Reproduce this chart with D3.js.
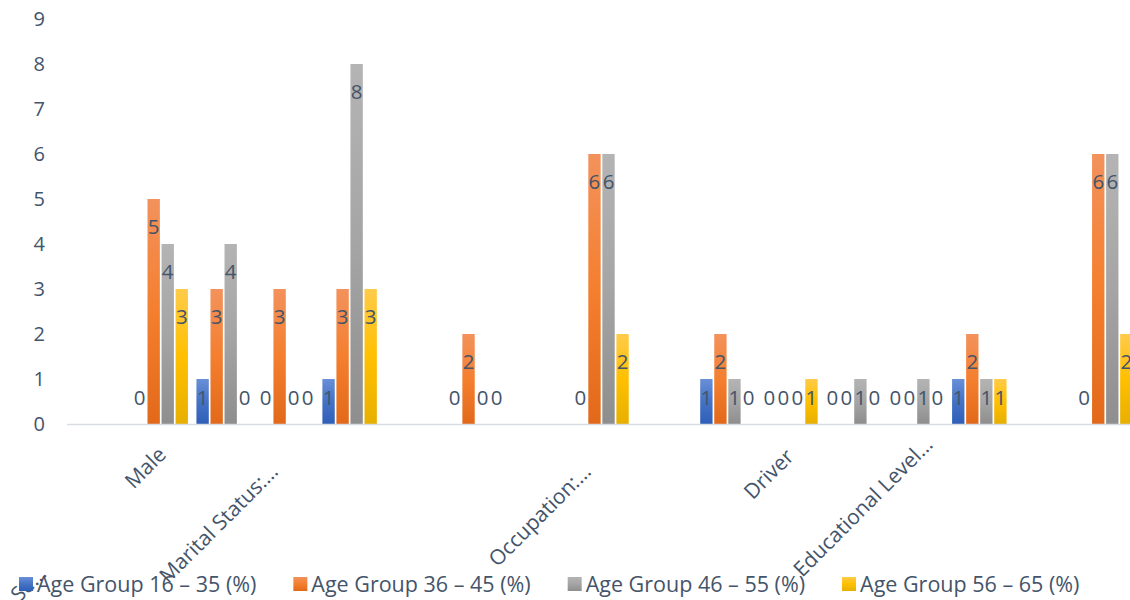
<!DOCTYPE html>
<html>
<head>
<meta charset="utf-8">
<script src="https://cdn.jsdelivr.net/npm/d3@7"></script>
<style>
  html, body { margin: 0; padding: 0; background: #ffffff; }
  svg { display: block; font-family: "Open Sans", sans-serif; }
</style>
</head>
<body>
<svg id="chart" width="1130" height="600"></svg>
<script>
// Category slots along the x axis (empty string = no label shown)
const categories = ["Se…", "Male", "", "Marital Status:…", "", "", "", "",
                    "Occupation:…", "", "", "Driver", "", "Educational Level…", "", "", ""];

// Series (null = no value for that slot)
const seriesNames = ["Age Group 16 – 35 (%)", "Age Group 36 – 45 (%)",
                     "Age Group 46 – 55 (%)", "Age Group 56 – 65 (%)"];
const age16to35 = [null, 0, 1, 0, 1, null, 0, null, 0, null, 1, 0, 0, 0, 1, null, 0];
const age36to45 = [null, 5, 3, 3, 3, null, 2, null, 6, null, 2, 0, 0, 0, 2, null, 6];
const age46to55 = [null, 4, 4, 0, 8, null, 0, null, 6, null, 1, 0, 1, 1, 1, null, 6];
const age56to65 = [null, 3, 0, 0, 3, null, 0, null, 2, null, 0, 1, 0, 0, 1, null, 2];

const yTicks = [0, 1, 2, 3, 4, 5, 6, 7, 8, 9];

// ---- layout / style ----
const W = 1130, H = 600;
const plot = { left: 66, right: 1136.5, top: 19, bottom: 424 };
const textColor = "#44546A";
const gradients = [
  ["#6990D8", "#4472C4", "#2E5FB8"],
  ["#F3925C", "#F47F2F", "#E2691A"],
  ["#B4B4B4", "#A5A5A5", "#8E8E8E"],
  ["#FFCB4A", "#FFC000", "#E7AF00"]
];
// label anchor nudges relative to the tick centre / axis line
const labelNudge = [[-50, 151], [7, 32], null, [-7, 49], null, null, null, null,
                    [-9, 49], null, null, [5, 34], null, [18, 22], null, null, null];

const svg = d3.select("#chart");
const defs = svg.append("defs");
gradients.forEach((g, i) => {
  const lg = defs.append("linearGradient").attr("id", "grad" + i)
    .attr("x1", 0).attr("y1", 0).attr("x2", 0).attr("y2", 1);
  lg.append("stop").attr("offset", "0%").attr("stop-color", g[0]);
  lg.append("stop").attr("offset", "50%").attr("stop-color", g[1]);
  lg.append("stop").attr("offset", "100%").attr("stop-color", g[2]);
});

const series = [age16to35, age36to45, age46to55, age56to65];
const idx = d3.range(categories.length);

const x = d3.scaleBand().domain(idx).range([plot.left, plot.right]).padding(0);
const xs = d3.scaleBand().domain(d3.range(series.length))
  .range([4.5, x.bandwidth() - 4]).paddingInner(0.12).paddingOuter(0);
const y = d3.scaleLinear().domain([0, 9]).range([plot.bottom, plot.top]);

// y tick labels
svg.append("g").selectAll("text").data(yTicks).join("text")
  .attr("x", 45).attr("y", d => y(d)).attr("dy", "0.36em")
  .attr("text-anchor", "end").attr("fill", textColor)
  .attr("font-size", 20).text(d => d);

// bars
const bars = [];
series.forEach((vals, s) => vals.forEach((v, c) => {
  if (v !== null) bars.push({ s, c, v });
}));

svg.append("g").selectAll("rect").data(bars.filter(d => d.v > 0)).join("rect")
  .attr("x", d => x(d.c) + xs(d.s))
  .attr("width", xs.bandwidth())
  .attr("y", d => y(d.v))
  .attr("height", d => y(0) - y(d.v))
  .attr("fill", d => `url(#grad${d.s})`);

// x axis line
svg.append("line")
  .attr("x1", plot.left + 1).attr("x2", W)
  .attr("y1", y(0) + 0.5).attr("y2", y(0) + 0.5)
  .attr("stroke", "#D9DDE3").attr("stroke-width", 1.5);

// value labels, inside the bar end
svg.append("g").selectAll("text").data(bars).join("text")
  .attr("x", d => x(d.c) + xs(d.s) + xs.bandwidth() / 2)
  .attr("y", d => Math.min(y(d.v) + 28, y(0) - 26))
  .attr("dy", "0.36em")
  .attr("text-anchor", "middle").attr("fill", textColor)
  .attr("font-size", 20.5).text(d => d.v);

// rotated category labels
const labelled = idx.filter(i => categories[i] !== "");
svg.append("g").selectAll("text").data(labelled).join("text")
  .attr("transform", i => {
    const ax = x(i) + x.bandwidth() / 2 + labelNudge[i][0];
    const ay = y(0) + labelNudge[i][1];
    return `translate(${ax},${ay}) rotate(-45)`;
  })
  .attr("text-anchor", "end").attr("fill", textColor)
  .attr("font-size", 21).text(i => categories[i]);

// legend
const legend = svg.append("g").attr("transform", "translate(19,0)");
let lx = 0;
seriesNames.forEach((name, s) => {
  const item = legend.append("g").attr("transform", `translate(${lx},0)`);
  item.append("rect").attr("x", 0).attr("y", 577).attr("width", 14).attr("height", 14)
    .attr("fill", `url(#grad${s})`);
  const t = item.append("text").attr("x", 18).attr("y", 592)
    .attr("fill", textColor).attr("font-size", 21.5).text(name);
  lx += 18 + t.node().getComputedTextLength() + 37;
});
</script>
</body>
</html>
